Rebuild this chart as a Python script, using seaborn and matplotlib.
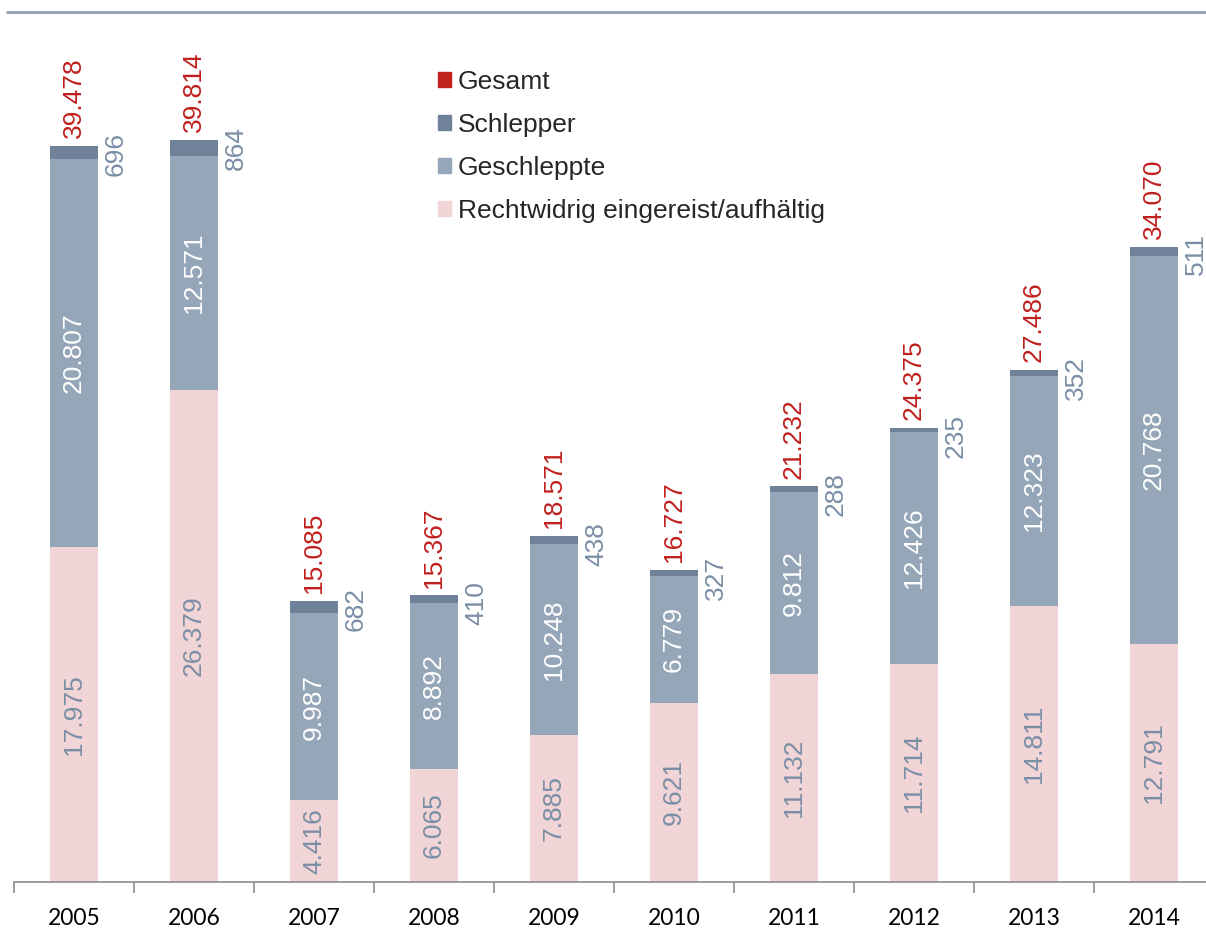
import matplotlib
matplotlib.use("Agg")
import matplotlib.pyplot as plt
from matplotlib.patches import Patch
from matplotlib.lines import Line2D
import pandas as pd
import seaborn as sns
import numpy as np

years = ['2005', '2006', '2007', '2008', '2009', '2010', '2011', '2012', '2013', '2014']
rechtwidrig = [17975, 26379, 4416, 6065, 7885, 9621, 11132, 11714, 14811, 12791]
geschleppte = [20807, 12571, 9987, 8892, 10248, 6779, 9812, 12426, 12323, 20768]
schlepper = [696, 864, 682, 410, 438, 327, 288, 235, 352, 511]
gesamt = [39478, 39814, 15085, 15367, 18571, 16727, 21232, 24375, 27486, 34070]

c_pink = '#F0D4D6'
c_gesch = '#95A6B8'
c_schl = '#6F8299'
c_red = '#C0201E'
c_lab = '#7A8EA5'

df = pd.DataFrame({'jahr': years, 'r': rechtwidrig, 'g': geschleppte, 's': schlepper})
df['rg'] = df['r'] + df['g']
df['rgs'] = df['rg'] + df['s']

sns.set_style('white')
plt.rcParams['font.family'] = ['Liberation Sans', 'DejaVu Sans']

fig = plt.figure(figsize=(12.06, 9.43), dpi=100)
ax = fig.add_axes([14 / 1206, 61 / 943, 1200 / 1206, 839 / 943])

# stacked by overlaying cumulative sums
sns.barplot(data=df, x='jahr', y='rgs', order=years, color=c_schl, width=0.4,
            saturation=1, ax=ax, linewidth=0)
sns.barplot(data=df, x='jahr', y='rg', order=years, color=c_gesch, width=0.4,
            saturation=1, ax=ax, linewidth=0)
sns.barplot(data=df, x='jahr', y='r', order=years, color=c_pink, width=0.4,
            saturation=1, ax=ax, linewidth=0)

ax.set_xlim(-0.5, 9.5)
ax.set_ylim(0, 45000)

for i in range(len(years)):
    r, g, s, t = rechtwidrig[i], geschleppte[i], schlepper[i], gesamt[i]
    fmt = lambda v: f'{v:,}'.replace(',', '.')
    ax.text(i, r / 2, fmt(r), rotation=90, ha='center', va='center',
            color=c_lab, fontsize=19)
    ax.text(i, r + g / 2, fmt(g), rotation=90, ha='center', va='center',
            color='white', fontsize=19)
    ax.annotate(fmt(t), (i, r + g + s), xytext=(0, 5.5), textcoords='offset points',
                rotation=90, ha='center', va='bottom', color=c_red, fontsize=19)
    ax.annotate(fmt(s), (i + 0.35, r + g + s), xytext=(0, 10), textcoords='offset points',
                rotation=90, ha='center', va='top', color=c_lab, fontsize=19)

sns.despine(ax=ax, left=True, top=True, right=True)
ax.spines['bottom'].set_color('#8C8C8C')
ax.spines['bottom'].set_linewidth(1.2)
ax.set_yticks([])
ax.set_xlabel('')
ax.set_ylabel('')
ax.set_xticks(np.arange(len(years)))
ax.set_xticklabels(years, fontfamily='Lato', fontsize=16.5, color='black')
ax.set_xticks(np.arange(len(years) + 1) - 0.5, minor=True)
ax.tick_params(axis='x', which='major', length=0, pad=19)
ax.tick_params(axis='x', which='minor', length=8, width=1.2, color='#8C8C8C',
               direction='out', bottom=True)

handles = [Patch(color=c_red), Patch(color=c_schl), Patch(color=c_gesch), Patch(color=c_pink)]
labels = ['Gesamt', 'Schlepper', 'Geschleppte', 'Rechtwidrig eingereist/aufhältig']
fig.legend(handles, labels, loc='upper left', bbox_to_anchor=(438 / 1206, 1 - 70 / 943),
           frameon=False, fontsize=19, handlelength=0.5, handleheight=0.5,
           handletextpad=0.25, labelspacing=0.72, borderpad=0, borderaxespad=0)

fig.add_artist(Line2D([7 / 1206, 1], [1 - 12 / 943, 1 - 12 / 943], color='#8FA0B3',
                      linewidth=2, transform=fig.transFigure))

fig.savefig('out.png', dpi=100)
